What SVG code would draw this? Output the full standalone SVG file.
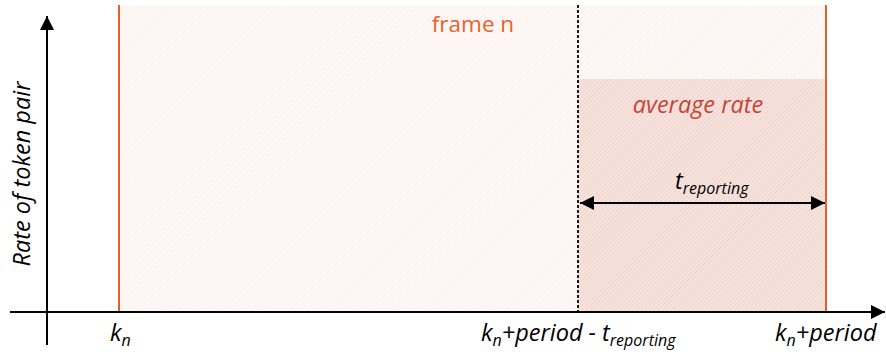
<svg xmlns="http://www.w3.org/2000/svg" width="886" height="359" viewBox="0 0 886 359">
<style>
.lbl{font-family:"Open Sans","Liberation Sans",sans-serif;font-style:italic;font-size:23.5px;fill:#000}
.sub{font-size:16px}
.axis{stroke:#000;stroke-width:2;fill:none}
.edge{stroke:#e0622a;stroke-width:2}
</style>
<defs>
<pattern id="hLight" width="4" height="4" patternUnits="userSpaceOnUse" patternTransform="rotate(45)">
<rect width="4" height="4" fill="#fdf8f6"/>
<line x1="0" y1="0" x2="0" y2="4" stroke="#faebe6" stroke-width="1"/>
</pattern>
<pattern id="hDark" width="3" height="3" patternUnits="userSpaceOnUse" patternTransform="rotate(45)">
<rect width="3" height="3" fill="#f7e4df"/>
<line x1="0" y1="0" x2="0" y2="3" stroke="#ebc0b8" stroke-width="1"/>
</pattern>
<marker id="ahBig" viewBox="0 0 10 10" refX="10" refY="5" markerWidth="14" markerHeight="14" markerUnits="userSpaceOnUse" orient="auto-start-reverse">
<path d="M0,0 L10,5 L0,10 Z" fill="#000"/>
</marker>
</defs>
<g id="frame">
<rect x="119" y="5" width="707" height="307" fill="url(#hLight)"/>
<text x="473" y="32" text-anchor="middle" font-family="'Open Sans','Liberation Sans',sans-serif" font-size="22.5" fill="#e8622a">frame n</text>
</g>
<g id="average">
<rect x="578" y="79" width="248" height="233" fill="url(#hDark)"/>
<text x="698" y="113" text-anchor="middle" font-family="'Open Sans','Liberation Sans',sans-serif" font-style="italic" font-size="23.5" fill="#c0473a">average rate</text>
</g>
<g id="connectors">
<line class="edge" x1="119" y1="5" x2="119" y2="312"/>
<line class="edge" x1="826" y1="5" x2="826" y2="312"/>
<line x1="578" y1="5" x2="578" y2="312" stroke="#000" stroke-width="1.8" stroke-dasharray="3,2"/>
<line class="axis" x1="47" y1="345" x2="47" y2="16" marker-end="url(#ahBig)"/>
<line class="axis" x1="10" y1="312" x2="885" y2="312" marker-end="url(#ahBig)"/>
<line class="axis" x1="580" y1="203" x2="825" y2="203" marker-start="url(#ahBig)" marker-end="url(#ahBig)"/>
</g>
<g id="labels">
<text class="lbl" transform="translate(30,174) rotate(-90)" text-anchor="middle">Rate of token pair</text>
<text class="lbl" x="675" y="189">t<tspan class="sub" dy="5">reporting</tspan></text>
<text class="lbl" x="110" y="341">k<tspan class="sub" dy="5">n</tspan></text>
<text class="lbl" x="481" y="341">k<tspan class="sub" dy="5">n</tspan><tspan dy="-5">+period - t</tspan><tspan class="sub" dy="5">reporting</tspan></text>
<text class="lbl" x="775" y="341">k<tspan class="sub" dy="5">n</tspan><tspan dy="-5">+period</tspan></text>
</g>
</svg>
